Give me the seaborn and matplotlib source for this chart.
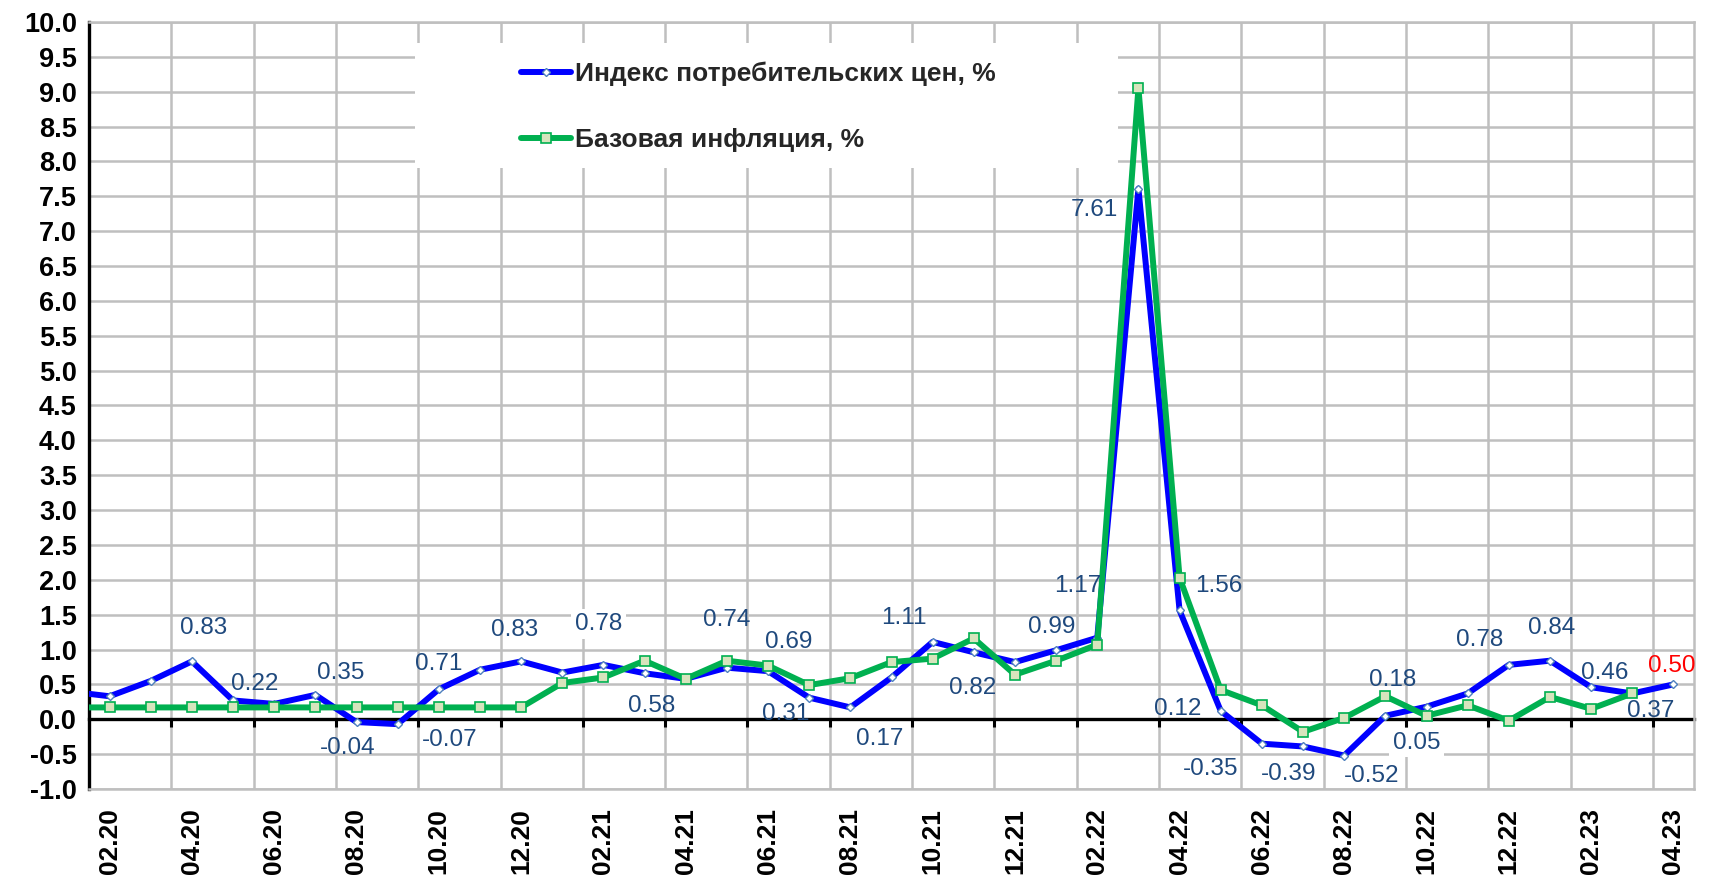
import numpy as np
import pandas as pd
import matplotlib
matplotlib.use("Agg")
import matplotlib.pyplot as plt
import seaborn as sns
from matplotlib.lines import Line2D
from matplotlib.patches import Rectangle

# ---------------- data ----------------
months = ["01.20", "02.20", "03.20", "04.20", "05.20", "06.20", "07.20", "08.20",
          "09.20", "10.20", "11.20", "12.20", "01.21", "02.21", "03.21", "04.21",
          "05.21", "06.21", "07.21", "08.21", "09.21", "10.21", "11.21", "12.21",
          "01.22", "02.22", "03.22", "04.22", "05.22", "06.22", "07.22", "08.22",
          "09.22", "10.22", "11.22", "12.22", "01.23", "02.23", "03.23", "04.23"]
cpi = [0.40, 0.33, 0.55, 0.83, 0.27, 0.22, 0.35, -0.04, -0.07, 0.43, 0.71, 0.83,
       0.67, 0.78, 0.66, 0.58, 0.74, 0.69, 0.31, 0.17, 0.60, 1.11, 0.96, 0.82,
       0.99, 1.17, 7.61, 1.56, 0.12, -0.35, -0.39, -0.52, 0.05, 0.18, 0.37, 0.78,
       0.84, 0.46, 0.37, 0.50]
core = [0.17, 0.17, 0.17, 0.17, 0.17, 0.17, 0.17, 0.17, 0.17, 0.17, 0.17, 0.17,
        0.52, 0.60, 0.84, 0.58, 0.84, 0.77, 0.49, 0.59, 0.82, 0.87, 1.16, 0.64,
        0.84, 1.07, 9.05, 2.03, 0.42, 0.20, -0.18, 0.02, 0.33, 0.05, 0.20, -0.02,
        0.32, 0.15, 0.37, np.nan]
series_names = ["Индекс потребительских цен, %", "Базовая инфляция, %"]
# months whose CPI value is printed
labelled_months = ["04.20", "06.20", "07.20", "08.20", "09.20", "11.20", "12.20",
                   "02.21", "04.21", "05.21", "06.21", "07.21", "08.21", "10.21",
                   "12.21", "01.22", "02.22", "03.22", "04.22", "05.22", "06.22",
                   "07.22", "08.22", "09.22", "10.22", "12.22", "01.23", "02.23",
                   "03.23", "04.23"]

# ---------------- styling (positions of labels in pixels, relative to point) --------
label_offsets = {
    "04.20": (12, 33), "06.20": (-20, 20), "07.20": (25, 22), "08.20": (-9, -26),
    "09.20": (52, -16), "11.20": (-41, 6), "12.20": (-6, 31), "02.21": (-5, 41),
    "04.21": (-34, -27), "05.21": (0, 48), "06.21": (21, 29), "07.21": (-24, -16),
    "08.21": (29, -32), "10.21": (-29, 24), "12.21": (-42, -26), "01.22": (-4, 23),
    "02.22": (-20, 52), "03.22": (-44, -21), "04.22": (39, 24), "05.22": (-43, 2),
    "06.22": (-51, -25), "07.22": (-14, -28), "08.22": (27, -20), "09.22": (31, -27),
    "10.22": (-34, 27), "12.22": (-29, 25), "01.23": (2, 33), "02.23": (14, 14),
    "03.23": (18, -18), "04.23": (-2, 18),
}
boxed_labels = {"02.21", "09.22"}
red_labels = {"04.23"}

BLUE = "#0000FF"
GREEN = "#00B050"
GRID = "#BFBFBF"
LABEL_COLOR = "#1F497D"

sns.set_theme(style="white")
plt.rcParams["font.family"] = ["Liberation Sans", "DejaVu Sans"]

W, H, DPI = 1713, 881, 100
fig = plt.figure(figsize=(W / DPI, H / DPI), dpi=DPI)
ax = fig.add_axes([89 / W, 1 - 789 / H, (1694 - 89) / W, (789 - 22) / H])

idx = np.arange(len(months))
df = pd.DataFrame({"idx": idx, "month": months, "cpi": cpi, "core": core})

y_min, y_max, y_step = -1.0, 10.0, 0.5

# white legend area hiding gridlines
ax.add_patch(Rectangle((415 / W, 1 - 168 / H), (1118 - 415) / W, (168 - 43) / H,
                       transform=fig.transFigure, facecolor="white",
                       edgecolor="none", zorder=1.5))

lw = 4.3
blue_kw = dict(color=BLUE, lw=lw, marker="D", markersize=4.2,
               markerfacecolor="white", markeredgecolor="#4F81BD",
               markeredgewidth=1.0)
green_kw = dict(color=GREEN, lw=lw, marker="s", markersize=6.8,
                markerfacecolor="#D7E4BD", markeredgecolor=GREEN,
                markeredgewidth=1.2)

sns.lineplot(data=df, x="idx", y="cpi", ax=ax, legend=False, zorder=3,
             **blue_kw)
sns.lineplot(data=df.dropna(subset=["core"]), x="idx", y="core", ax=ax,
             legend=False, zorder=4, **green_kw)

# data labels
for m in labelled_months:
    i = months.index(m)
    v = cpi[i]
    dx, dy = label_offsets[m]
    kw = {}
    if m in boxed_labels:
        kw["bbox"] = dict(boxstyle="square,pad=0.15", facecolor="white",
                          edgecolor="none")
    ax.annotate(f"{v:.2f}", (i, v), xytext=(dx, dy), textcoords="offset pixels",
                ha="center", va="center", fontsize=17.5,
                color="#FF0000" if m in red_labels else LABEL_COLOR,
                zorder=5, **kw)

# axes limits / ticks
ax.set_xlim(idx[0] + 0.5, idx[-1] + 0.5)
ax.set_ylim(y_min, y_max)
yt = np.arange(y_min, y_max + y_step / 2, y_step)
ax.set_yticks(yt)
ax.set_yticklabels([f"{v:.1f}" for v in yt], fontweight="bold", fontsize=19.5,
                   color="black")
ax.set_xticks(idx[1::2])
ax.set_xticklabels(months[1::2], rotation=90, fontweight="bold", fontsize=19,
                   color="black")
boundaries = idx[2:-1:2] + 0.5
ax.set_xticks(boundaries, minor=True)
ax.tick_params(axis="x", which="both", length=0, pad=14)
ax.tick_params(axis="y", direction="inout", length=11.5, width=2.2,
               color="black", pad=3)
ax.set_xlabel("")
ax.set_ylabel("")

ax.set_axisbelow(True)
ax.grid(which="major", axis="y", color=GRID, lw=1.8)
ax.grid(which="minor", axis="x", color=GRID, lw=1.8)
ax.grid(which="major", axis="x", visible=False)

for s in ["top", "right", "bottom"]:
    ax.spines[s].set_color(GRID)
    ax.spines[s].set_linewidth(1.8)
ax.spines["left"].set_color("black")
ax.spines["left"].set_linewidth(2.4)

# zero axis with category-boundary tick marks
sec = ax.secondary_xaxis((0 - y_min) / (y_max - y_min))
sec.set_xticks(boundaries)
sec.tick_params(axis="x", direction="out", length=6, width=2.2, color="black",
                labelbottom=False, labeltop=False)
sec.spines["bottom"].set_color("black")
sec.spines["bottom"].set_linewidth(2.4)
sec.set_zorder(2)

# legend
handles = [Line2D([], [], **blue_kw), Line2D([], [], **green_kw)]
fig.legend(handles, series_names, loc="center left",
           bbox_to_anchor=(521 / W, 1 - 107 / H), frameon=False,
           prop=dict(family=["Liberation Sans", "DejaVu Sans"], weight="bold",
                     size=19),
           handlelength=1.9, handletextpad=0.15, labelspacing=1.6,
           borderpad=0, borderaxespad=0, numpoints=1)

fig.savefig("out.png", dpi=DPI)
